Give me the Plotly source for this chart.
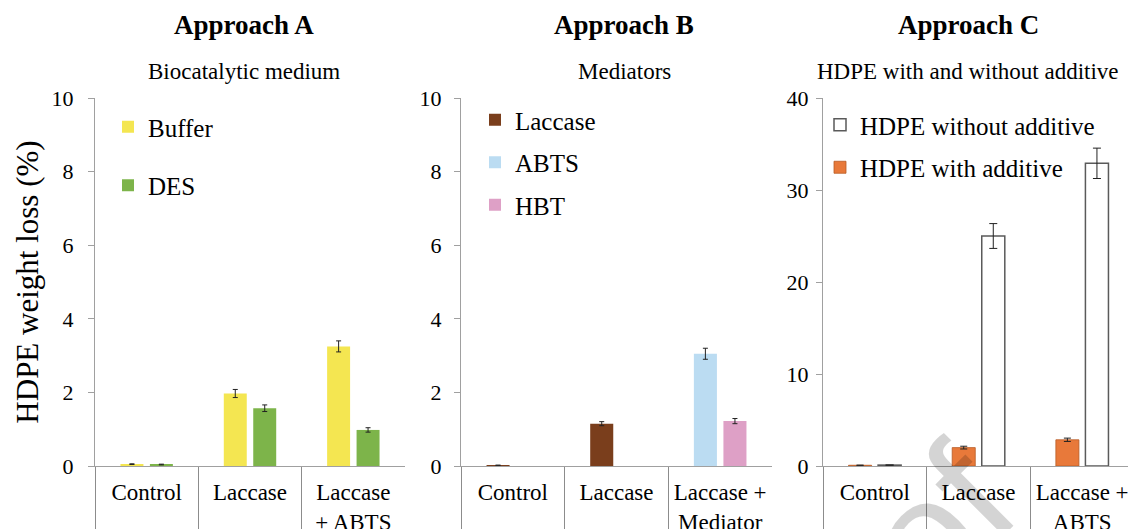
import plotly.graph_objects as go

# page body has an 8px margin; figure fills the rest of the 1136x529 window
OFF = 8
W, H = 1136 - OFF, 529 - OFF

# ---------------- data ----------------
cats_a = ["Control", "Laccase", "Laccase + ABTS"]
ticks_a = ["Control", "Laccase", "Laccase<br>+ ABTS"]
buffer_vals = [0.05, 1.97, 3.25]
buffer_err = [0.01, 0.11, 0.15]
des_vals = [0.04, 1.57, 0.98]
des_err = [0.01, 0.09, 0.06]

cats_b = ["Control", "Laccase", "Laccase + Mediator"]
ticks_b = ["Control", "Laccase", "Laccase +<br>Mediator"]
laccase_cats = ["Control", "Laccase"]
laccase_vals = [0.02, 1.15]
laccase_err = [0.0, 0.055]
mediator_cats = ["Laccase + Mediator"]
abts_vals = [3.05]
abts_err = [0.15]
hbt_vals = [1.22]
hbt_err = [0.07]

cats_c = ["Control", "Laccase", "Laccase + ABTS"]
ticks_c = ["Control", "Laccase", "Laccase +<br>ABTS"]
with_add_vals = [0.08, 2.0, 2.85]
with_add_err = [0.0, 0.15, 0.18]
without_add_vals = [0.1, 25.0, 32.9]
without_add_err = [0.0, 1.35, 1.65]

titles = ["Approach A", "Approach B", "Approach C"]
subtitles = ["Biocatalytic medium", "Mediators", "HDPE with and without additive"]
watermark = "Proof"

# ---------------- style ----------------
FONT = "Liberation Serif"
AXIS_GREY = "#a0a0a0"
DIV_GREY = "#8c8c8c"
C_BUFFER = "#f4e651"
C_DES = "#7db44a"
C_LAC = "#7a3e1c"
C_ABTS = "#bbdcf2"
C_HBT = "#dea0c6"
C_ORANGE = "#e8793a"


def px_x(p):
    return (p - OFF) / W


def px_y(p):
    return (H - (p - OFF)) / H


dom_a = [px_x(95), px_x(405)]
dom_b = [px_x(461), px_x(772)]
dom_c = [px_x(823), px_x(1134)]
dom_y = [px_y(466), px_y(98)]


def idx(cats, names):
    return [cats.index(n) for n in names]


def err(vals, w):
    return dict(type="data", array=vals, visible=True, color="#222222",
                thickness=1, width=w)


fig = go.Figure()

# Panel A
fig.add_trace(go.Bar(x=idx(cats_a, cats_a), y=buffer_vals, name="Buffer",
                     marker=dict(color=C_BUFFER, line=dict(width=0)),
                     error_y=err(buffer_err, 2.5), xaxis="x", yaxis="y",
                     offsetgroup="a1", legend="legend", legendgroup="buf"))
fig.add_trace(go.Bar(x=idx(cats_a, cats_a), y=des_vals, name="DES",
                     marker=dict(color=C_DES, line=dict(width=0)),
                     error_y=err(des_err, 2.5), xaxis="x", yaxis="y",
                     offsetgroup="a2", legend="legend", legendgroup="des"))

# Panel B
fig.add_trace(go.Bar(x=idx(cats_b, laccase_cats), y=laccase_vals, name="Laccase",
                     marker=dict(color=C_LAC, line=dict(width=0)),
                     error_y=err(laccase_err, 2.5), xaxis="x2", yaxis="y2",
                     offsetgroup="b1", legend="legend2", legendgroup="lac"))
fig.add_trace(go.Bar(x=idx(cats_b, mediator_cats), y=abts_vals, name="ABTS",
                     marker=dict(color=C_ABTS, line=dict(width=0)),
                     error_y=err(abts_err, 2.5), xaxis="x2", yaxis="y2",
                     offsetgroup="b1", legend="legend2", legendgroup="abts"))
fig.add_trace(go.Bar(x=idx(cats_b, mediator_cats), y=hbt_vals, name="HBT",
                     marker=dict(color=C_HBT, line=dict(width=0)),
                     error_y=err(hbt_err, 2.5), xaxis="x2", yaxis="y2",
                     offsetgroup="b2", legend="legend2", legendgroup="hbt"))

# Panel C
fig.add_trace(go.Bar(x=idx(cats_c, cats_c), y=with_add_vals, name="HDPE with additive",
                     marker=dict(color=C_ORANGE, line=dict(width=0.8, color="#b85a25")),
                     error_y=err(with_add_err, 3.5), xaxis="x3", yaxis="y3",
                     offsetgroup="c1", legend="legend3", legendgroup="with",
                     legendrank=2))
fig.add_trace(go.Bar(x=idx(cats_c, cats_c), y=without_add_vals, name="HDPE without additive",
                     marker=dict(color="white", line=dict(width=1.5, color="#5a5a5a")),
                     error_y=err(without_add_err, 4), xaxis="x3", yaxis="y3",
                     offsetgroup="c2", legend="legend3", legendgroup="without",
                     legendrank=1))

xa_common = dict(
    range=[-0.5, 2.5], showline=True, linecolor=AXIS_GREY, linewidth=1,
    ticks="", tickmode="array", tickvals=[0, 1, 2],
    tickfont=dict(family=FONT, size=23, color="black"),
    ticklabelstandoff=5,
    minor=dict(tickmode="array", tickvals=[-0.5, 0.5, 1.5], ticks="outside",
               ticklen=80, tickcolor=DIV_GREY, tickwidth=1, showgrid=False),
    showgrid=False, zeroline=False, automargin=False, fixedrange=True,
)
ya_common = dict(
    showline=True, linecolor=AXIS_GREY, linewidth=1, ticks="outside",
    ticklen=6, tickcolor=AXIS_GREY, showgrid=False, zeroline=False,
    tickfont=dict(family=FONT, size=22, color="black"),
    automargin=False, domain=dom_y, fixedrange=True,
)

legend_common = dict(xanchor="left", yanchor="top", bgcolor="rgba(0,0,0,0)",
                     borderwidth=0, font=dict(family=FONT, size=25, color="black"))

fig.update_layout(
    xaxis=dict(xa_common, domain=dom_a, anchor="y", ticktext=ticks_a),
    xaxis2=dict(xa_common, domain=dom_b, anchor="y2", ticktext=ticks_b),
    xaxis3=dict(xa_common, domain=dom_c, anchor="y3", ticktext=ticks_c),
    yaxis=dict(ya_common, anchor="x", range=[0, 10], tickvals=[0, 2, 4, 6, 8, 10],
               ticklabelstandoff=10,
               title=dict(text="HDPE weight loss (%)", standoff=3,
                          font=dict(family=FONT, size=31, color="black"))),
    yaxis2=dict(ya_common, anchor="x2", range=[0, 10], tickvals=[0, 2, 4, 6, 8, 10],
                ticklabelstandoff=8),
    yaxis3=dict(ya_common, anchor="x3", range=[0, 40], tickvals=[0, 10, 20, 30, 40],
                ticklabelstandoff=3),
    barmode="group", bargap=0.43, bargroupgap=0.22,
    width=W, height=H, margin=dict(l=0, r=0, t=0, b=0),
    paper_bgcolor="white", plot_bgcolor="white",
    font=dict(family=FONT, color="black"),
    template="none",
    legend=dict(legend_common, x=px_x(108), y=px_y(104), tracegroupgap=23),
    legend2=dict(legend_common, x=px_x(475), y=px_y(97), tracegroupgap=7),
    legend3=dict(legend_common, x=px_x(820), y=px_y(102), tracegroupgap=7),
)

title_x = [244, 624, 968]
for t, s, xp in zip(titles, subtitles, title_x):
    fig.add_annotation(text="<b>" + t + "</b>", x=px_x(xp), y=px_y(25),
                       xref="paper", yref="paper", showarrow=False,
                       xanchor="center", yanchor="middle",
                       font=dict(family=FONT, size=27, color="black"))
    fig.add_annotation(text=s, x=px_x(xp), y=px_y(72),
                       xref="paper", yref="paper", showarrow=False,
                       xanchor="center", yanchor="middle",
                       font=dict(family=FONT, size=23, color="black"))

# faint diagonal watermark, mostly below the visible area
fig.add_annotation(text=watermark, x=px_x(850), y=px_y(610), xref="paper", yref="paper",
                   showarrow=False, textangle=-45, xanchor="center", yanchor="middle",
                   font=dict(family="Liberation Sans", size=160, color="rgba(0,0,0,0.17)"))

fig.write_html("out.html", config={"displayModeBar": False})
